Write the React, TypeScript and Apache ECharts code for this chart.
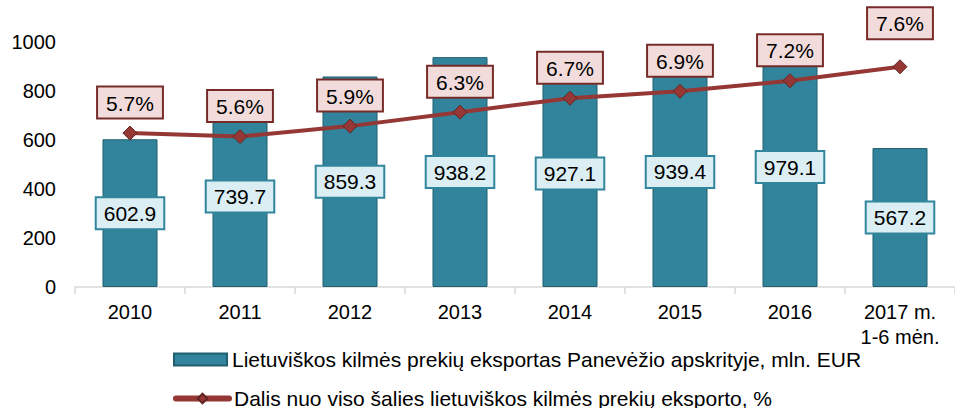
import React, { useEffect, useRef } from "react";
import * as echarts from "echarts";

const categories = ["2010", "2011", "2012", "2013", "2014", "2015", "2016", "2017 m.\n1-6 mėn."];
const exportValues = [602.9, 739.7, 859.3, 938.2, 927.1, 939.4, 979.1, 567.2];
const shareValues = [5.7, 5.6, 5.9, 6.3, 6.7, 6.9, 7.2, 7.6];
const yTicks = [0, 200, 400, 600, 800, 1000];
const barName = "Lietuviškos kilmės prekių eksportas Panevėžio apskrityje, mln. EUR";
const lineName = "Dalis nuo viso šalies lietuviškos kilmės prekių eksporto, %";

const FONT = "'Liberation Sans', Arial, sans-serif";

export default function App() {
  const ref = useRef<HTMLDivElement>(null);
  useEffect(() => {
    if (!ref.current) return;
    const chart = echarts.init(ref.current, undefined, { renderer: "svg" });
    const legendText = { fontFamily: FONT, fontSize: 21, color: "#000" };
    chart.setOption({
      animation: false,
      textStyle: { fontFamily: FONT },
      grid: { left: 75, right: -8, top: 42, bottom: 121, containLabel: false },
      legend: [
        {
          left: 168,
          top: 344,
          itemWidth: 53,
          itemHeight: 12,
          textStyle: legendText,
          data: [{ name: barName, icon: "rect" }],
        },
        {
          left: 168,
          top: 383,
          itemWidth: 53,
          itemHeight: 12,
          textStyle: legendText,
          lineStyle: { width: 6, cap: "round" },
          data: [{ name: lineName }],
        },
      ],
      xAxis: {
        type: "category",
        data: categories,
        axisLine: { show: true, lineStyle: { color: "#D9D9D9", width: 1.5 } },
        axisTick: { show: true, length: 7, lineStyle: { color: "#D9D9D9", width: 1.5 } },
        axisLabel: { fontFamily: FONT, fontSize: 20, color: "#000", margin: 12, lineHeight: 25 },
      },
      yAxis: [
        {
          type: "value",
          min: yTicks[0],
          max: yTicks[yTicks.length - 1],
          interval: 200,
          axisLine: { show: false },
          axisTick: { show: false },
          splitLine: { show: false },
          axisLabel: {
            fontFamily: FONT,
            fontSize: 20,
            color: "#000",
            margin: 19,
            formatter: (v: number) => String(v),
          },
        },
        { type: "value", min: 1.29, max: 8.31, show: false, splitLine: { show: false } },
      ],
      series: [
        {
          name: barName,
          type: "bar",
          data: exportValues,
          barWidth: "50%",
          itemStyle: { color: "#31849B", borderColor: "#215E6E", borderWidth: 1 },
          label: {
            show: true,
            position: "inside",
            formatter: (p: any) => p.value.toFixed(1),
            fontFamily: FONT,
            fontSize: 21,
            color: "#000",
            backgroundColor: "#DBEEF4",
            borderColor: "#31859C",
            borderWidth: 2,
            padding: [5, 7, 4, 7],
          },
          z: 2,
        },
        {
          name: lineName,
          type: "line",
          yAxisIndex: 1,
          data: shareValues.map((v, i) =>
            i === shareValues.length - 1 ? { value: v, label: { offset: [0, -13] } } : v
          ),
          symbol: "diamond",
          symbolSize: 14,
          lineStyle: { color: "#953735", width: 4 },
          itemStyle: { color: "#953735", borderColor: "#632523", borderWidth: 1 },
          label: {
            show: true,
            position: "top",
            distance: 8,
            formatter: (p: any) => p.value.toFixed(1) + "%",
            fontFamily: FONT,
            fontSize: 21,
            color: "#000",
            backgroundColor: "#F2DCDB",
            borderColor: "#772C2A",
            borderWidth: 2,
            padding: [5, 8, 4, 8],
          },
          z: 5,
        },
      ],
    });
    return () => chart.dispose();
  }, []);
  return <div ref={ref} style={{ width: 955, height: 408, position: "absolute", left: 0, top: 0 }} />;
}
